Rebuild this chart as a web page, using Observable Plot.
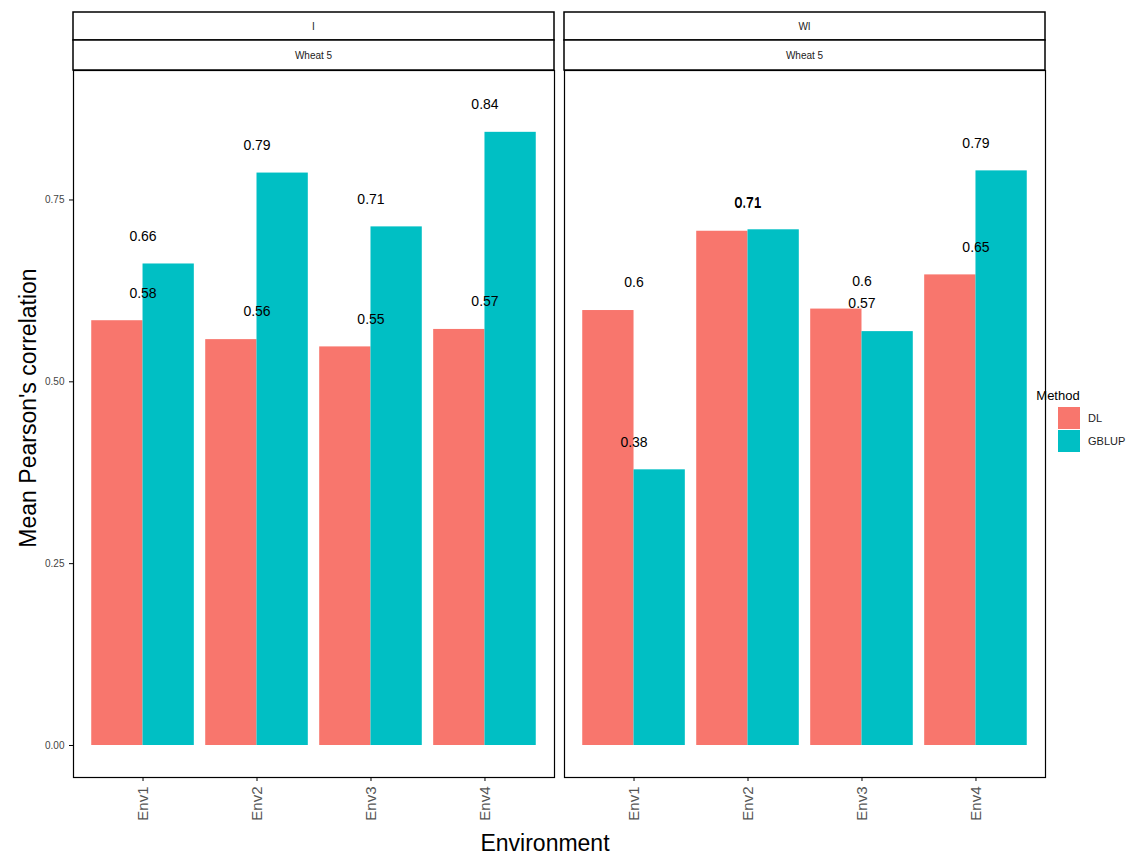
<!DOCTYPE html>
<html><head><meta charset="utf-8">
<script src="https://cdn.jsdelivr.net/npm/d3@7"></script>
<script src="https://cdn.jsdelivr.net/npm/@observablehq/plot@0.6"></script>
<style>body{margin:0;background:#fff;font-family:"Liberation Sans",Arial,sans-serif}</style>
</head><body><div id="Chart"></div>
<script>
var panels = ["I", "WI"];
var envs = ["Env1", "Env2", "Env3", "Env4"];
var methods = ["DL", "GBLUP"];
var colors = ["#F8766D", "#00BFC4"];
var dl_I = [0.584, 0.558, 0.548, 0.572];
var gblup_I = [0.662, 0.787, 0.713, 0.843];
var dl_WI = [0.598, 0.707, 0.600, 0.647];
var gblup_WI = [0.379, 0.709, 0.569, 0.790];

var rows = [];
[[dl_I, gblup_I], [dl_WI, gblup_WI]].forEach((pair, p) => {
  pair.forEach((vals, m) => {
    vals.forEach((v, i) => {
      rows.push({ panel: panels[p], method: methods[m], env: i + 1, value: v,
        x1: m == 0 ? i + 1 - 0.45 : i + 1, x2: m == 0 ? i + 1 : i + 1 + 0.45,
        label: String(Math.round(v * 100) / 100) });
    });
  });
});

var options = {
  width: 1134, height: 857,
  marginLeft: 72, marginRight: 89, marginTop: 70, marginBottom: 80,
  style: { fontFamily: "Liberation Sans, Arial, sans-serif", background: "white" },
  fx: { domain: panels, paddingInner: 0.0204, paddingOuter: 0, axis: null },
  x: { domain: [0.39, 4.61], label: null },
  y: { domain: [-0.044, 0.928], label: null },
  color: { domain: methods, range: colors },
  marks: [
    Plot.frame({ stroke: "black", strokeWidth: 1.2 }),
    Plot.rectY(rows, { fx: "panel", x1: "x1", x2: "x2", y1: 0, y2: "value", fill: "method" }),
    Plot.text(rows, { fx: "panel", x: "env", y: d => d.value + 0.038, text: "label", fontSize: 14, fill: "black" }),
    Plot.axisX({ ticks: [1, 2, 3, 4], tickFormat: d => envs[d - 1], tickRotate: -90, fontSize: 15, fill: "#555", tickSize: 4, label: null }),
    Plot.axisY({ ticks: [0, 0.25, 0.5, 0.75], tickFormat: d3.format(".2f"), fontSize: 10, fill: "#444", tickSize: 4, label: null })
  ]
};

var chart = Plot.plot(options);
var svg = d3.select(chart);
var fx = chart.scale("fx");
var bw = 481, step = 491;
panels.forEach((p, i) => {
  var x0 = fx && fx.apply ? fx.apply(p) : 72 + i * step;
  if (fx && fx.bandwidth) bw = fx.bandwidth;
  [[12, 28, p], [40, 30, "Wheat 5"]].forEach(s => {
    svg.append("rect").attr("x", x0).attr("y", s[0]).attr("width", bw).attr("height", s[1])
      .attr("fill", "white").attr("stroke", "black").attr("stroke-width", 1.5);
    svg.append("text").attr("x", x0 + bw / 2).attr("y", s[0] + s[1] / 2 + 4)
      .attr("text-anchor", "middle").attr("font-size", 10).attr("fill", "#222").text(s[2]);
  });
});
svg.append("text").attr("transform", "translate(36,408) rotate(-90)").attr("text-anchor", "middle")
  .attr("font-size", 23).attr("fill", "black").text("Mean Pearson's correlation");
svg.append("text").attr("x", 545).attr("y", 851).attr("text-anchor", "middle")
  .attr("font-size", 23).attr("fill", "black").text("Environment");
svg.append("text").attr("x", 1058).attr("y", 400).attr("font-size", 13).attr("fill", "black").text("Method");
methods.forEach((m, i) => {
  svg.append("rect").attr("x", 1058).attr("y", 407 + i * 23).attr("width", 22).attr("height", 22).attr("fill", colors[i]);
  svg.append("text").attr("x", 1088).attr("y", 422 + i * 23).attr("text-anchor", "start").attr("font-size", 11).attr("fill", "#222").text(m);
});
document.getElementById("Chart").append(chart);
</script></body></html>
